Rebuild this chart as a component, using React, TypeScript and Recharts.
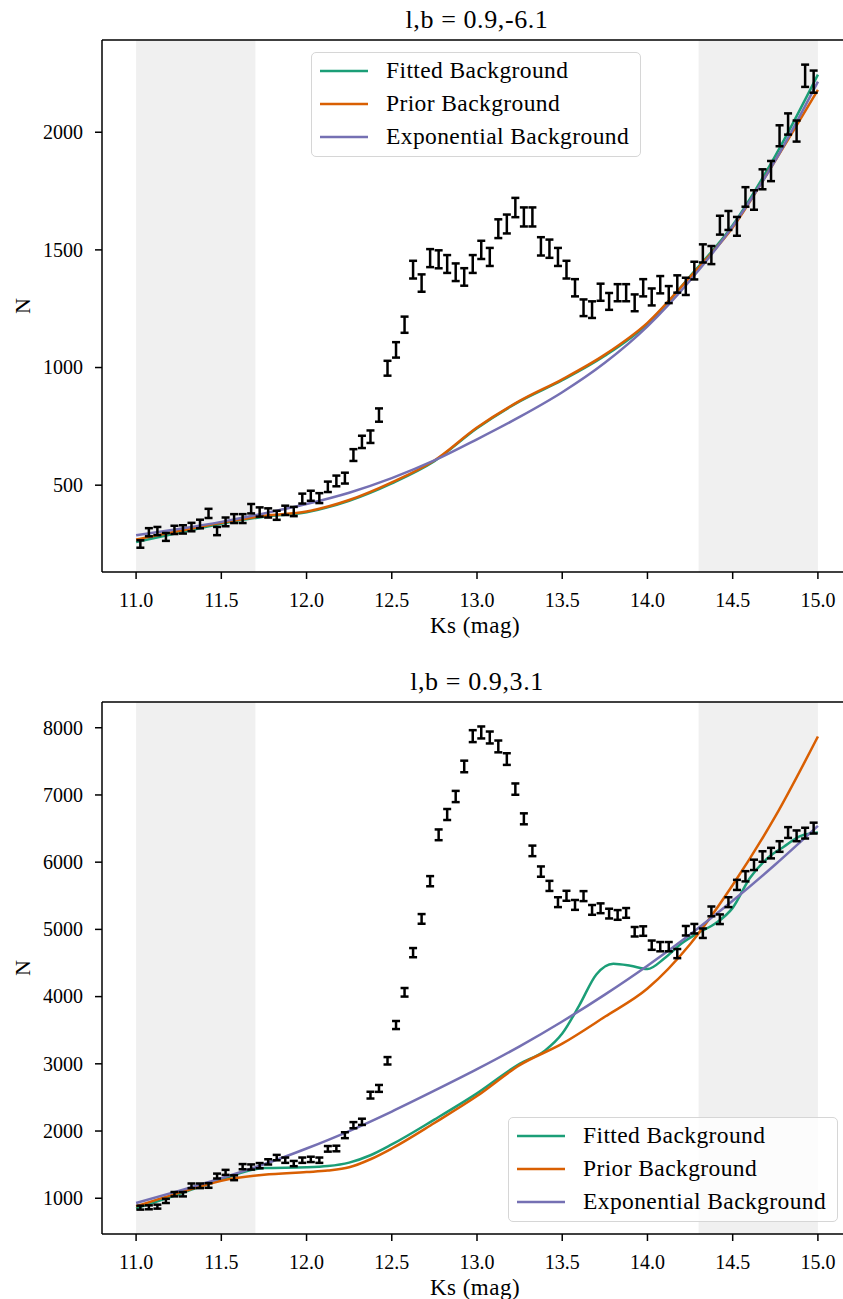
import React from 'react';
import { ComposedChart, Line, Scatter, ErrorBar, XAxis, YAxis, ReferenceArea, Legend } from 'recharts';

// star counts per 0.05 mag bin, bins centred on 11.025 ... 14.975
const KS_FIRST_BIN = 11.025;
const KS_BIN_WIDTH = 0.05;

const TOP_COUNTS = [
  250, 300, 305, 280, 310, 312, 322, 335, 380, 305,
  344, 358, 358, 400, 386, 382, 372, 393, 388, 443,
  455, 445, 493, 518, 530, 628, 684, 706, 798, 997,
  1075, 1182, 1416, 1359, 1465, 1460, 1440, 1405, 1385, 1440,
  1500, 1470, 1590, 1610, 1680, 1640, 1640, 1515, 1505, 1470,
  1416, 1339, 1254, 1246, 1320, 1281, 1318, 1318, 1275, 1339,
  1300, 1352, 1310, 1355, 1345, 1412, 1485, 1478, 1605, 1625,
  1600, 1725, 1712, 1800, 1835, 1985, 2035, 2005, 2240, 2215,
];

const BOTTOM_COUNTS = [
  860, 865, 875, 960, 1060, 1060, 1185, 1185, 1190, 1330,
  1385, 1305, 1470, 1465, 1485, 1541, 1605, 1566, 1516, 1566,
  1578, 1566, 1735, 1740, 1938, 2087, 2137, 2534, 2634, 3045,
  3577, 4064, 4654, 5156, 5717, 6407, 6709, 6977, 7424, 7875,
  7930, 7855, 7722, 7534, 7087, 6645, 6168, 5860, 5647, 5405,
  5500, 5364, 5495, 5290, 5314, 5235, 5215, 5245, 4965, 4975,
  4765, 4743, 4743, 4640, 4980, 5010, 4943, 5268, 5151, 5405,
  5662, 5790, 5960, 6084, 6135, 6233, 6441, 6392, 6432, 6507,
];

const CURVE_KS = [11.0, 11.25, 11.5, 11.75, 12.0, 12.25, 12.5, 12.75, 13.0, 13.25, 13.5, 13.75, 14.0, 14.25, 14.5, 14.75, 15.0];

const TOP_FITTED = [258, 298, 336, 366, 385, 434, 508, 602, 742, 856, 946, 1050, 1185, 1388, 1605, 1900, 2245];
const TOP_PRIOR = [269, 305, 340, 370, 388, 437, 512, 605, 745, 858, 950, 1055, 1190, 1385, 1595, 1880, 2180];
const TOP_EXPONENTIAL = [287, 314, 344, 380, 420, 468, 530, 605, 695, 790, 895, 1020, 1175, 1370, 1600, 1880, 2215];

const BOTTOM_FITTED_KS = [11.0, 11.25, 11.5, 11.75, 12.0, 12.125, 12.25, 12.375, 12.5, 12.75, 13.0, 13.25, 13.4, 13.5, 13.6, 13.7, 13.8, 13.9, 14.0, 14.1, 14.2, 14.3, 14.4, 14.5, 14.6, 14.7, 14.8, 14.9, 15.0];
const BOTTOM_FITTED = [850, 1060, 1280, 1450, 1460, 1478, 1530, 1640, 1800, 2170, 2560, 3000, 3200, 3450, 3870, 4330, 4490, 4460, 4410, 4570, 4790, 4950, 5090, 5320, 5760, 6050, 6230, 6390, 6440];
const BOTTOM_PRIOR_KS = [11.0, 11.25, 11.5, 11.75, 12.0, 12.125, 12.25, 12.375, 12.5, 12.75, 13.0, 13.25, 13.5, 13.75, 14.0, 14.25, 14.5, 14.75, 15.0];
const BOTTOM_PRIOR = [880, 1080, 1260, 1350, 1390, 1412, 1460, 1580, 1740, 2120, 2520, 2980, 3300, 3700, 4120, 4780, 5660, 6680, 7870];
const BOTTOM_EXPONENTIAL = [930, 1110, 1300, 1505, 1740, 2000, 2290, 2600, 2920, 3260, 3630, 4030, 4460, 4925, 5425, 5965, 6540];

const X_TICKS = [11.0, 11.5, 12.0, 12.5, 13.0, 13.5, 14.0, 14.5, 15.0];
const TOP_Y_TICKS = [500, 1000, 1500, 2000];
const BOTTOM_Y_TICKS = [1000, 2000, 3000, 4000, 5000, 6000, 7000, 8000];

// magnitude ranges shaded grey
const MASKED_RANGES = [[11.0, 11.7], [14.3, 15.0]];

const SERIES_NAMES = ['Fitted Background', 'Prior Background', 'Exponential Background'];
const SERIES_COLOURS = ['#1b9e77', '#d95f02', '#7570b3'];

const FONT = "'Liberation Serif', 'Times New Roman', Times, 'DejaVu Serif', 'Noto Serif', serif";
const X_DOMAIN: [number, number] = [10.8, 15.2];
const AXIS_LINE = { stroke: '#000', strokeWidth: 1.5 };

type Pt = { ks: number; n: number };
type Bin = Pt & { err: number };

const toPoints = (ks: number[], ns: number[]): Pt[] => ks.map((k, i) => ({ ks: k, n: ns[i] }));
// poisson errors on the counts
const toBins = (counts: number[]): Bin[] =>
  counts.map((n, i) => ({ ks: KS_FIRST_BIN + i * KS_BIN_WIDTH, n, err: Math.sqrt(n) }));

// tick labels drawn by hand so the serif font sticks
const XTick = (props: any) => (
  <text x={props.x} y={props.y} dy="0.71em" textAnchor="middle" fontSize={20} fontFamily={FONT} fill="#000">
    {Number(props.payload.value).toFixed(1)}
  </text>
);
const YTick = (props: any) => (
  <text x={props.x} y={props.y} dy="0.34em" textAnchor="end" fontSize={20} fontFamily={FONT} fill="#000">
    {props.payload.value}
  </text>
);

function LegendBox() {
  return (
    <div
      style={{
        width: 330,
        height: 105,
        boxSizing: 'border-box',
        border: '1.5px solid #d6d6d6',
        borderRadius: 5,
        background: 'rgba(255,255,255,0.8)',
        padding: '1px 0 0 8px',
      }}
    >
      {SERIES_NAMES.map((name, i) => (
        <div key={name} style={{ display: 'flex', alignItems: 'center', height: 33 }}>
          <svg width={48} height={4} style={{ display: 'block' }}>
            <line x1={0} y1={2} x2={48} y2={2} stroke={SERIES_COLOURS[i]} strokeWidth={2.5} />
          </svg>
          <span style={{ marginLeft: 18, fontSize: 23.5, letterSpacing: 0.4, fontFamily: FONT, color: '#000', whiteSpace: 'nowrap', lineHeight: '33px' }}>
            {name}
          </span>
        </div>
      ))}
    </div>
  );
}

type PanelProps = {
  title: string;
  bins: Bin[];
  curves: Pt[][];
  yDomain: [number, number];
  yTicks: number[];
  height: number;
  plotTop: number;
  plotHeight: number;
  legendLeft: number;
  legendTop: number;
};

function Panel(p: PanelProps) {
  const xAxisHeight = p.height - p.plotTop - p.plotHeight;
  return (
    <ComposedChart width={853} height={p.height} margin={{ top: p.plotTop - 1, right: 1, bottom: 0, left: 0 }}>
      {MASKED_RANGES.map(([a, b]) => (
        <ReferenceArea key={a} x1={a} x2={b} fill="#f0f0f0" fillOpacity={1} stroke="none" ifOverflow="hidden" />
      ))}
      <XAxis
        xAxisId="top"
        orientation="top"
        type="number"
        dataKey="ks"
        domain={X_DOMAIN}
        allowDataOverflow
        height={1}
        ticks={X_TICKS}
        tick={false}
        tickLine={false}
        axisLine={AXIS_LINE}
        label={(props: any) => {
          const vb = props.viewBox;
          return (
            <text x={vb.x + vb.width / 2} y={vb.y - 11} textAnchor="middle" fontSize={26} letterSpacing={0.6} fontFamily={FONT} fill="#000">
              {p.title}
            </text>
          );
        }}
      />
      <XAxis
        type="number"
        dataKey="ks"
        domain={X_DOMAIN}
        allowDataOverflow
        ticks={X_TICKS}
        interval={0}
        height={xAxisHeight}
        tickSize={7}
        tickMargin={14}
        tick={XTick}
        tickLine={AXIS_LINE}
        axisLine={AXIS_LINE}
        label={(props: any) => {
          const vb = props.viewBox;
          return (
            <text x={vb.x + vb.width / 2 - 2} y={vb.y + 61} textAnchor="middle" fontSize={23} letterSpacing={0.5} fontFamily={FONT} fill="#000">
              Ks (mag)
            </text>
          );
        }}
      />
      <YAxis
        type="number"
        dataKey="n"
        domain={p.yDomain}
        allowDataOverflow
        ticks={p.yTicks}
        interval={0}
        width={102}
        tickSize={7}
        tickMargin={12}
        tick={YTick}
        tickLine={AXIS_LINE}
        axisLine={AXIS_LINE}
        label={(props: any) => {
          const vb = props.viewBox;
          const cx = 22;
          const cy = vb.y + vb.height / 2;
          return (
            <text x={cx} y={cy} transform={`rotate(-90, ${cx}, ${cy})`} textAnchor="middle" dominantBaseline="central" fontSize={22} fontFamily={FONT} fill="#000">
              N
            </text>
          );
        }}
      />
      <Legend
        layout="vertical"
        verticalAlign="middle"
        align="center"
        content={() => <LegendBox />}
        wrapperStyle={{ left: p.legendLeft, top: p.legendTop, width: 330, height: 105 }}
      />
      {p.curves.map((pts, i) => (
        <Line
          key={SERIES_NAMES[i]}
          data={pts}
          dataKey="n"
          name={SERIES_NAMES[i]}
          type="monotone"
          stroke={SERIES_COLOURS[i]}
          strokeWidth={2.5}
          dot={false}
          activeDot={false}
          isAnimationActive={false}
        />
      ))}
      <Scatter data={p.bins} dataKey="n" legendType="none" shape={() => <g />} isAnimationActive={false}>
        <ErrorBar dataKey="err" direction="y" width={4} stroke="#000" strokeWidth={2.5} isAnimationActive={false} />
      </Scatter>
    </ComposedChart>
  );
}

export default function App() {
  return (
    <div style={{ position: 'absolute', left: 0, top: 0, width: 843, height: 1299, overflow: 'hidden', background: '#fff', fontFamily: FONT }}>
      <div style={{ position: 'absolute', left: 0, top: 0 }}>
        <Panel
          title="l,b = 0.9,-6.1"
          bins={toBins(TOP_COUNTS)}
          curves={[toPoints(CURVE_KS, TOP_FITTED), toPoints(CURVE_KS, TOP_PRIOR), toPoints(CURVE_KS, TOP_EXPONENTIAL)]}
          yDomain={[131, 2392]}
          yTicks={TOP_Y_TICKS}
          height={650}
          plotTop={40}
          plotHeight={532}
          legendLeft={311}
          legendTop={52}
        />
      </div>
      <div style={{ position: 'absolute', left: 0, top: 650 }}>
        <Panel
          title="l,b = 0.9,3.1"
          bins={toBins(BOTTOM_COUNTS)}
          curves={[
            toPoints(BOTTOM_FITTED_KS, BOTTOM_FITTED),
            toPoints(BOTTOM_PRIOR_KS, BOTTOM_PRIOR),
            toPoints(CURVE_KS, BOTTOM_EXPONENTIAL),
          ]}
          yDomain={[468, 8383]}
          yTicks={BOTTOM_Y_TICKS}
          height={649}
          plotTop={52}
          plotHeight={532}
          legendLeft={508}
          legendTop={467}
        />
      </div>
    </div>
  );
}
